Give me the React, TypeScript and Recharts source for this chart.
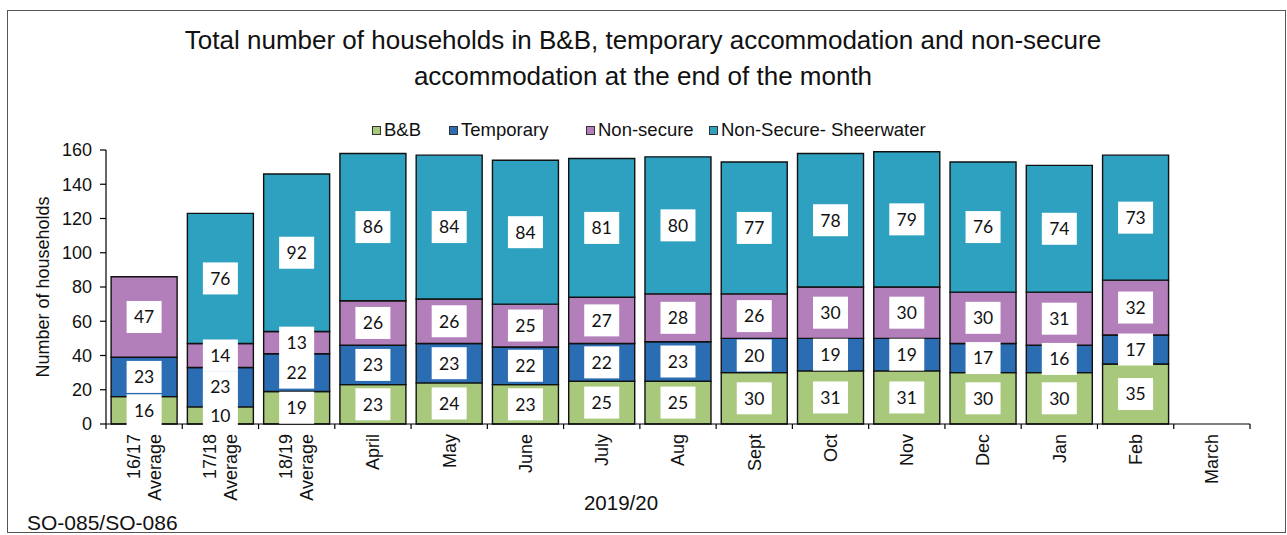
import React from 'react';
import { BarChart, Bar, XAxis, YAxis, LabelList } from 'recharts';

const categories = ['16/17\nAverage', '17/18\nAverage', '18/19\nAverage', 'April', 'May', 'June', 'July', 'Aug', 'Sept', 'Oct', 'Nov', 'Dec', 'Jan', 'Feb', 'March'];
const bbValues = [16, 10, 19, 23, 24, 23, 25, 25, 30, 31, 31, 30, 30, 35, null];
const temporaryValues = [23, 23, 22, 23, 23, 22, 22, 23, 20, 19, 19, 17, 16, 17, null];
const nonSecureValues = [47, 14, 13, 26, 26, 25, 27, 28, 26, 30, 30, 30, 31, 32, null];
const sheerwaterValues = [null, 76, 92, 86, 84, 84, 81, 80, 77, 78, 79, 76, 74, 73, null];
const yTicks = [0, 20, 40, 60, 80, 100, 120, 140, 160];

const seriesNames = ['B&B', 'Temporary', 'Non-secure', 'Non-Secure- Sheerwater'];
const seriesKeys = ['bb', 'temporary', 'nonSecure', 'sheerwater'];
const seriesColors = ['#a8c97c', '#2b6db3', '#b27fbb', '#2ea1c1'];

const data = categories.map((c, i) => ({
  category: c,
  bb: bbValues[i],
  temporary: temporaryValues[i],
  nonSecure: nonSecureValues[i],
  sheerwater: sheerwaterValues[i],
}));

const W = 1287;
const H = 535;
const PLOT_LEFT = 106;
const PLOT_RIGHT = 1250;
const PLOT_TOP = 150;
const PLOT_BOTTOM = 424;
const BAND = (PLOT_RIGHT - PLOT_LEFT) / categories.length;
const AXIS_FONT = 'Liberation Sans, Arial, sans-serif';

function XTick(props: any) {
  const { x, y, payload, index } = props;
  const lines = String(payload.value).split('\n');
  const n = lines.length;
  const lh = 21;
  return (
    <g>
      <line x1={x - BAND / 2} y1={y} x2={x - BAND / 2} y2={y + 5} stroke="#000" strokeWidth={1.2} />
      {index === categories.length - 1 && (
        <line x1={x + BAND / 2} y1={y} x2={x + BAND / 2} y2={y + 5} stroke="#000" strokeWidth={1.2} />
      )}
      {lines.map((l, i) => {
        const cx = x + (i - (n - 1) / 2) * lh;
        return (
          <text
            key={i}
            transform={`translate(${cx},${y + 10}) rotate(-90)`}
            textAnchor="end"
            dy="0.35em"
            fontSize={18}
            fontFamily={AXIS_FONT}
            fill="#111"
          >
            {l}
          </text>
        );
      })}
    </g>
  );
}

function BoxLabel(props: any) {
  const { x, y, width, height, value } = props;
  if (value == null || value === 0) return null;
  const cx = Number(x) + Number(width) / 2;
  const cy = Number(y) + Number(height) / 2;
  return (
    <g>
      <rect x={cx - 17.5} y={cy - 16} width={35} height={32} fill="#ffffff" />
      <text x={cx} y={cy} dy="0.36em" textAnchor="middle" fontSize={17.5} fontFamily="Lato, Carlito, sans-serif" fill="#111">
        {value}
      </text>
    </g>
  );
}

const legendX = [372, 449, 586, 709];

export default function App() {
  return (
    <div style={{ position: 'absolute', left: 0, top: 0, width: W, height: H, background: '#fff', overflow: 'hidden' }}>
      <div
        style={{
          position: 'absolute',
          left: 7,
          top: 10,
          width: 1279,
          height: 523,
          border: '1.5px solid #555',
          boxSizing: 'border-box',
        }}
      />
      <div
        style={{
          position: 'absolute',
          left: 43,
          top: 22,
          width: 1200,
          textAlign: 'center',
          fontFamily: AXIS_FONT,
          fontSize: 26,
          lineHeight: '36px',
          color: '#111',
        }}
      >
        Total number of households in B&amp;B, temporary accommodation and non-secure
        <br />
        accommodation at the end of the month
      </div>
      {seriesNames.map((name, i) => (
        <div
          key={name}
          style={{
            position: 'absolute',
            left: legendX[i],
            top: 119,
            height: 22,
            display: 'flex',
            alignItems: 'center',
            fontFamily: AXIS_FONT,
            fontSize: 18.5,
            color: '#111',
            whiteSpace: 'nowrap',
          }}
        >
          <span
            style={{
              display: 'inline-block',
              width: 9,
              height: 9,
              boxSizing: 'border-box',
              background: seriesColors[i],
              border: '1px solid #333',
              marginRight: 3,
            }}
          />
          {name}
        </div>
      ))}
      <div
        style={{
          position: 'absolute',
          left: 43,
          top: 287,
          transform: 'translate(-50%, -50%) rotate(-90deg)',
          fontFamily: AXIS_FONT,
          fontSize: 18,
          whiteSpace: 'nowrap',
          color: '#111',
        }}
      >
        Number of households
      </div>
      <div
        style={{
          position: 'absolute',
          left: 621,
          top: 503,
          transform: 'translate(-50%, -50%)',
          fontFamily: AXIS_FONT,
          fontSize: 20.5,
          whiteSpace: 'nowrap',
          color: '#111',
        }}
      >
        2019/20
      </div>
      <div
        style={{
          position: 'absolute',
          left: 27,
          top: 523,
          transform: 'translateY(-50%)',
          fontFamily: AXIS_FONT,
          fontSize: 21,
          whiteSpace: 'nowrap',
          color: '#111',
        }}
      >
        SO-085/SO-086
      </div>
      <div style={{ position: 'absolute', left: 0, top: 0 }}>
        <BarChart
          width={W}
          height={H}
          data={data}
          margin={{ top: PLOT_TOP, right: W - PLOT_RIGHT, left: 56, bottom: 11 }}
          barCategoryGap="6.7%"
        >
          <XAxis
            dataKey="category"
            interval={0}
            height={H - PLOT_BOTTOM - 11}
            tickLine={false}
            tickSize={0}
            tickMargin={0}
            axisLine={{ stroke: '#000', strokeWidth: 1.2 }}
            tick={<XTick />}
          />
          <YAxis
            width={PLOT_LEFT - 56}
            domain={[0, 160]}
            ticks={yTicks}
            interval={0}
            tickSize={6}
            tickMargin={8}
            axisLine={{ stroke: '#000', strokeWidth: 1.2 }}
            tickLine={{ stroke: '#000', strokeWidth: 1.2 }}
            tick={{ fontSize: 18, fill: '#111', fontFamily: AXIS_FONT }}
          />
          {seriesKeys.map((k, i) => (
            <Bar
              key={k}
              dataKey={k}
              name={seriesNames[i]}
              stackId="a"
              fill={seriesColors[i]}
              stroke="#111"
              strokeWidth={1.4}
              isAnimationActive={false}
            >
              <LabelList dataKey={k} content={<BoxLabel />} />
            </Bar>
          ))}
        </BarChart>
      </div>
    </div>
  );
}
